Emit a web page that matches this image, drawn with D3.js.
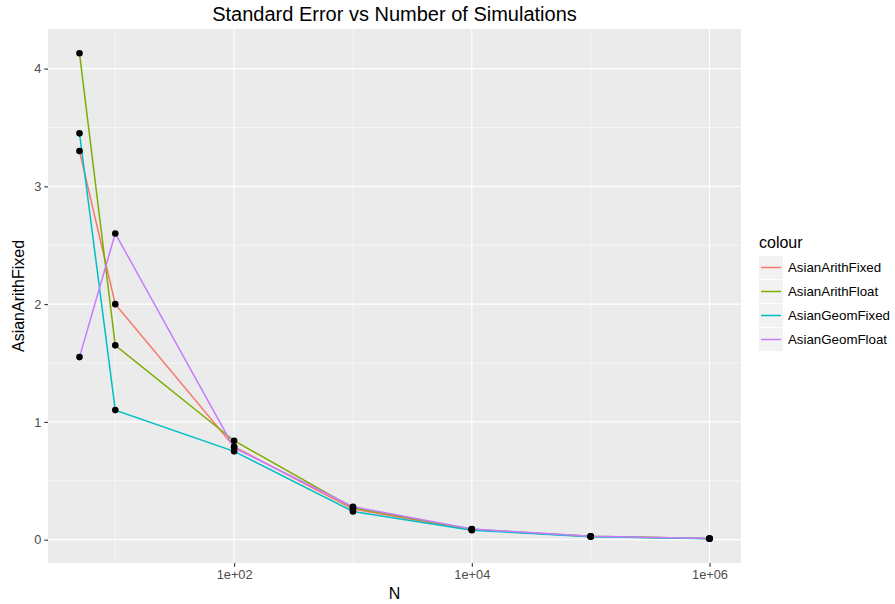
<!DOCTYPE html>
<html>
<head>
<meta charset="utf-8">
<script src="https://cdn.jsdelivr.net/npm/d3@7"></script>
<style>
  body { margin: 0; background: #fff; }
  text { font-family: "Liberation Sans", Arial, sans-serif; }
</style>
</head>
<body>
<div id="chart"></div>
<script>
// data
const simN = [5, 10, 100, 1000, 10000, 100000, 1000000];
const seriesNames = ['AsianArithFixed', 'AsianArithFloat', 'AsianGeomFixed', 'AsianGeomFloat'];
const arithFixed = [3.30, 2.00, 0.79, 0.26, 0.085, 0.027, 0.009];
const arithFloat = [4.13, 1.65, 0.84, 0.27, 0.088, 0.028, 0.009];
const geomFixed = [3.45, 1.10, 0.75, 0.24, 0.080, 0.025, 0.008];
const geomFloat = [1.55, 2.60, 0.78, 0.28, 0.090, 0.029, 0.009];
const seriesColors = ['#F8766D', '#7CAE00', '#00BFC4', '#C77CFF'];
const yTicks = [0, 1, 2, 3, 4];
const xTicks = [1e2, 1e4, 1e6];
const xMinor = [1e1, 1e3, 1e5];
const yMinor = [0.5, 1.5, 2.5, 3.5];

const seriesValues = [arithFixed, arithFloat, geomFixed, geomFloat];

const width = 895, height = 604;
const panel = { left: 48, top: 29, right: 741, bottom: 563 };

const svg = d3.select('#chart').append('svg')
    .attr('width', width)
    .attr('height', height);

// ggplot-style 5% expansion on both scales
const lx = [Math.log10(d3.min(simN)), Math.log10(d3.max(simN))];
const padX = (lx[1] - lx[0]) * 0.05;
const x = d3.scaleLog()
    .domain([Math.pow(10, lx[0] - padX), Math.pow(10, lx[1] + padX)])
    .range([panel.left, panel.right]);

const allY = seriesValues.flat();
const yMin = d3.min(allY), yMax = d3.max(allY);
const padY = (yMax - yMin) * 0.05;
const y = d3.scaleLinear()
    .domain([yMin - padY, yMax + padY])
    .range([panel.bottom, panel.top]);

// panel background
svg.append('rect')
    .attr('x', panel.left)
    .attr('y', panel.top)
    .attr('width', panel.right - panel.left)
    .attr('height', panel.bottom - panel.top)
    .attr('fill', '#EBEBEB');

const grid = svg.append('g');
grid.selectAll('.xminor').data(xMinor).enter().append('line')
    .attr('x1', d => x(d)).attr('x2', d => x(d))
    .attr('y1', panel.top).attr('y2', panel.bottom)
    .attr('stroke', '#fff').attr('stroke-width', 0.55);
grid.selectAll('.yminor').data(yMinor).enter().append('line')
    .attr('x1', panel.left).attr('x2', panel.right)
    .attr('y1', d => y(d)).attr('y2', d => y(d))
    .attr('stroke', '#fff').attr('stroke-width', 0.55);
grid.selectAll('.xmajor').data(xTicks).enter().append('line')
    .attr('x1', d => x(d)).attr('x2', d => x(d))
    .attr('y1', panel.top).attr('y2', panel.bottom)
    .attr('stroke', '#fff').attr('stroke-width', 1.1);
grid.selectAll('.ymajor').data(yTicks).enter().append('line')
    .attr('x1', panel.left).attr('x2', panel.right)
    .attr('y1', d => y(d)).attr('y2', d => y(d))
    .attr('stroke', '#fff').attr('stroke-width', 1.1);

// lines
const line = d3.line()
    .x((d, i) => x(simN[i]))
    .y(d => y(d));

seriesValues.forEach((vals, k) => {
    svg.append('path')
        .datum(vals)
        .attr('fill', 'none')
        .attr('stroke', seriesColors[k])
        .attr('stroke-width', 1.5)
        .attr('d', line);
});

// points
seriesValues.forEach(vals => {
    svg.append('g').selectAll('circle')
        .data(vals)
        .enter().append('circle')
        .attr('cx', (d, i) => x(simN[i]))
        .attr('cy', d => y(d))
        .attr('r', 3.3)
        .attr('fill', '#000');
});

// axes
const xAxis = svg.append('g')
    .attr('transform', `translate(0,${panel.bottom})`)
    .call(d3.axisBottom(x).tickValues(xTicks).tickSize(3.7).tickPadding(3)
        .tickFormat(d => d3.format('.0e')(d).replace(/e\+(\d)$/, 'e+0$1')));
const yAxis = svg.append('g')
    .attr('transform', `translate(${panel.left},0)`)
    .call(d3.axisLeft(y).tickValues(yTicks).tickSize(3.7).tickPadding(3)
        .tickFormat(d3.format('d')));

[xAxis, yAxis].forEach(ax => {
    ax.select('.domain').remove();
    ax.selectAll('line').attr('stroke', '#333333').attr('stroke-width', 1.1);
    ax.selectAll('text')
        .attr('fill', '#4D4D4D')
        .attr('font-size', '12.8px')
        .attr('font-family', '"Liberation Sans", Arial, sans-serif');
});

// titles
svg.append('text')
    .attr('x', (panel.left + panel.right) / 2)
    .attr('y', 21)
    .attr('text-anchor', 'middle')
    .attr('font-size', '20px')
    .attr('fill', '#000')
    .text('Standard Error vs Number of Simulations');

svg.append('text')
    .attr('x', (panel.left + panel.right) / 2)
    .attr('y', 599)
    .attr('text-anchor', 'middle')
    .attr('font-size', '16px')
    .attr('fill', '#000')
    .text('N');

svg.append('text')
    .attr('transform', `translate(24,${(panel.top + panel.bottom) / 2}) rotate(-90)`)
    .attr('text-anchor', 'middle')
    .attr('font-size', '16px')
    .attr('fill', '#000')
    .text('AsianArithFixed');

// legend
const legend = svg.append('g').attr('transform', 'translate(759,0)');
legend.append('text')
    .attr('x', 0)
    .attr('y', 248)
    .attr('font-size', '16px')
    .attr('fill', '#000')
    .text('colour');

seriesNames.forEach((name, k) => {
    const top = 256 + k * 24;
    legend.append('rect')
        .attr('x', 0).attr('y', top)
        .attr('width', 24).attr('height', 23)
        .attr('fill', '#F2F2F2');
    legend.append('line')
        .attr('x1', 2).attr('x2', 22)
        .attr('y1', top + 11.5).attr('y2', top + 11.5)
        .attr('stroke', seriesColors[k])
        .attr('stroke-width', 1.5);
    legend.append('text')
        .attr('x', 29)
        .attr('y', top + 16)
        .attr('font-size', '13.3px')
        .attr('fill', '#000')
        .text(name);
});
</script>
</body>
</html>
